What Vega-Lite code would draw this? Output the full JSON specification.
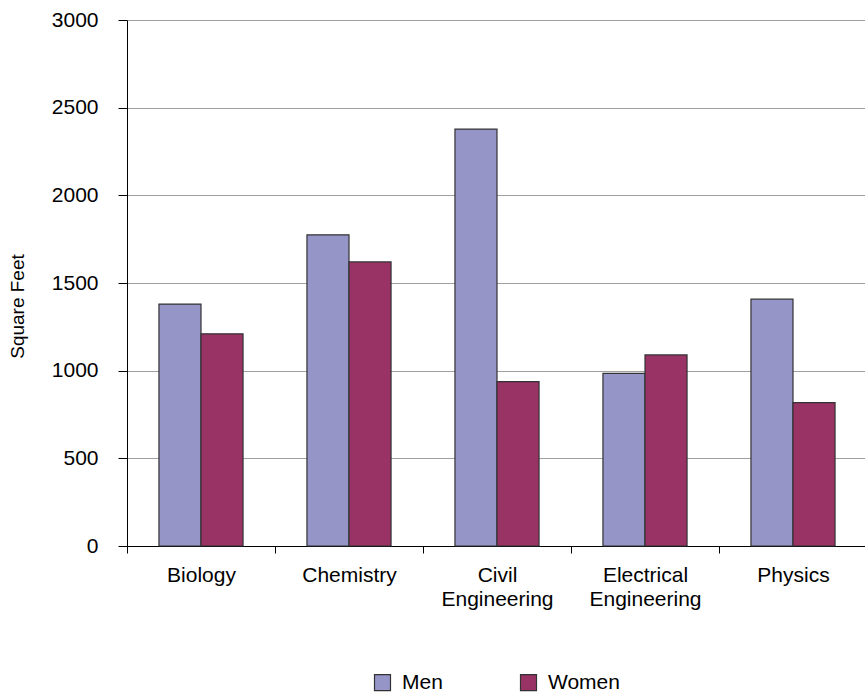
{
  "$schema": "https://vega.github.io/schema/vega-lite/v6.json",
  "autosize": {"type": "none"},
  "width": 740,
  "height": 526,
  "padding": {"left": 127, "top": 20, "right": 0, "bottom": 146},
  "background": "white",
  "config": {
    "view": {"stroke": null},
    "font": "Liberation Sans",
    "axis": {"labelFont": "Liberation Sans", "titleFont": "Liberation Sans", "labelColor": "#000", "titleColor": "#000"},
    "legend": {"labelFont": "Liberation Sans"}
  },
  "data": {
    "values": [
      {"field": "Biology", "sex": "Men", "sqft": 1380},
      {"field": "Biology", "sex": "Women", "sqft": 1210},
      {"field": "Chemistry", "sex": "Men", "sqft": 1775},
      {"field": "Chemistry", "sex": "Women", "sqft": 1620},
      {"field": "Civil Engineering", "sex": "Men", "sqft": 2378},
      {"field": "Civil Engineering", "sex": "Women", "sqft": 937},
      {"field": "Electrical Engineering", "sex": "Men", "sqft": 985},
      {"field": "Electrical Engineering", "sex": "Women", "sqft": 1090},
      {"field": "Physics", "sex": "Men", "sqft": 1408},
      {"field": "Physics", "sex": "Women", "sqft": 818}
    ]
  },
  "mark": {"type": "bar", "stroke": "#333333", "strokeWidth": 1.2},
  "encoding": {
    "x": {
      "field": "field",
      "type": "nominal",
      "sort": null,
      "scale": {"paddingInner": 0, "paddingOuter": 0},
      "axis": {
        "title": null,
        "labelAngle": 0,
        "labelFontSize": 21,
        "labelExpr": "split(datum.label, ' ')",
        "labelLineHeight": 24,
        "labelPadding": 11,
        "labelBaseline": "top",
        "tickBand": "extent",
        "tickSize": 7,
        "tickColor": "#000",
        "domainColor": "#000",
        "grid": false
      }
    },
    "xOffset": {
      "field": "sex",
      "type": "nominal",
      "scale": {"paddingInner": 0, "paddingOuter": 0.76}
    },
    "y": {
      "field": "sqft",
      "type": "quantitative",
      "scale": {"domain": [0, 3000], "nice": false},
      "axis": {
        "title": "Square Feet",
        "titleFontSize": 19,
        "titleFontWeight": "normal",
        "titleAngle": 270,
        "titleX": -110,
        "titleY": 286,
        "titleAlign": "center",
        "titleBaseline": "middle",
        "values": [0, 500, 1000, 1500, 2000, 2500, 3000],
        "format": "d",
        "labelFontSize": 21,
        "labelPadding": 20,
        "tickSize": 9,
        "tickColor": "#000",
        "domainColor": "#000",
        "grid": true,
        "gridColor": "#a0a0a0",
        "gridWidth": 1
      }
    },
    "color": {
      "field": "sex",
      "type": "nominal",
      "scale": {"domain": ["Men", "Women"], "range": ["#9595C8", "#993366"]},
      "legend": {
        "title": null,
        "orient": "none",
        "direction": "horizontal",
        "legendX": 245,
        "legendY": 652,
        "symbolType": "square",
        "symbolSize": 256,
        "symbolStrokeColor": "#333333",
        "symbolStrokeWidth": 1.2,
        "symbolOpacity": 1,
        "labelFontSize": 21,
        "labelColor": "#000",
        "labelOffset": 9,
        "columnPadding": 75
      }
    }
  }
}
